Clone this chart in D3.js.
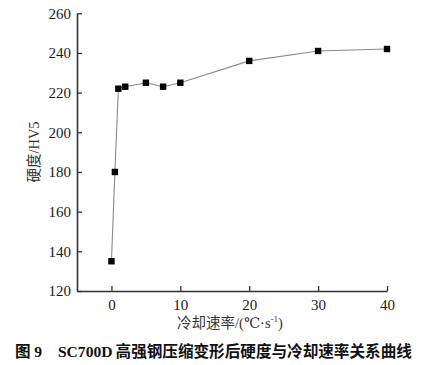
<!DOCTYPE html>
<html><head><meta charset="utf-8">
<script src="https://cdn.jsdelivr.net/npm/d3@7/dist/d3.min.js"></script>
<style>body{margin:0;background:#fff}</style>
</head><body>
<svg id="c" width="437" height="365"></svg>
<script>
const rates = [0, 0.5, 1, 2, 5, 7.5, 10, 20, 30, 40];
const hardness = [135, 180, 222, 223, 225, 223, 225, 236, 241, 242];
const xTicks = [0, 10, 20, 30, 40];
const yTicks = [120, 140, 160, 180, 200, 220, 240, 260];

const svg = d3.select("#c");
const x = d3.scaleLinear().domain([-5, 40]).range([77, 387]);
const y = d3.scaleLinear().domain([120, 260]).range([291, 13.3]);
const serif = "'Liberation Serif', 'DejaVu Serif', serif";
const cjk = "'Noto Sans CJK SC', 'Liberation Serif', serif";

const gx = svg.append("g").attr("transform", `translate(0,${y(120)})`)
  .call(d3.axisBottom(x).tickValues(xTicks).tickSizeInner(-5).tickSizeOuter(0).tickPadding(8));
const gy = svg.append("g").attr("transform", `translate(${x(-5)},0)`)
  .call(d3.axisLeft(y).tickValues(yTicks).tickSizeInner(-5).tickSizeOuter(0).tickPadding(6));
[gx, gy].forEach(g => {
  g.attr("font-family", null).attr("font-size", null);
  g.select(".domain").attr("stroke", "#333").attr("stroke-width", 1.6);
  g.selectAll(".tick line").attr("stroke", "#333").attr("stroke-width", 1.3);
  g.selectAll(".tick text").style("font-family", serif).style("font-size", "15px").attr("fill", "#1a1a1a");
});

const line = d3.line().x((d, i) => x(rates[i])).y(d => y(d));
svg.append("path").datum(hardness).attr("d", line)
  .attr("fill", "none").attr("stroke", "#8a8a8a").attr("stroke-width", 1.1);

svg.selectAll("rect.pt").data(hardness).join("rect").attr("class", "pt")
  .attr("x", (d, i) => x(rates[i]) - 3.2).attr("y", d => y(d) - 3.2)
  .attr("width", 6.4).attr("height", 6.4).attr("fill", "#000");

const yl = svg.append("text").attr("transform", `translate(39,152) rotate(-90)`)
  .attr("text-anchor", "middle").style("font-size", "14.5px").attr("fill", "#333");
yl.append("tspan").style("font-family", cjk).text("硬度");
yl.append("tspan").style("font-family", serif).text("/HV5");

const xl = svg.append("text").attr("x", 230).attr("y", 328).attr("text-anchor", "middle")
  .style("font-size", "14.5px").attr("fill", "#333");
xl.append("tspan").style("font-family", cjk).text("冷却速率");
xl.append("tspan").style("font-family", serif).text("/(℃·s");
xl.append("tspan").style("font-family", serif).style("font-size", "9px").attr("dy", -6).text("-1");
xl.append("tspan").style("font-family", serif).attr("dy", 6).text(")");

const cap = svg.append("text").attr("x", 15).attr("y", 357).style("font-size", "15.6px")
  .attr("font-weight", "bold").attr("fill", "#111");
cap.append("tspan").style("font-family", cjk).text("图 ");
cap.append("tspan").style("font-family", serif).text("9");
cap.append("tspan").style("font-family", serif).attr("dx", 16).text("SC700D");
cap.append("tspan").style("font-family", cjk).attr("dx", 3).text("高强钢压缩变形后硬度与冷却速率关系曲线");
</script>
</body></html>
